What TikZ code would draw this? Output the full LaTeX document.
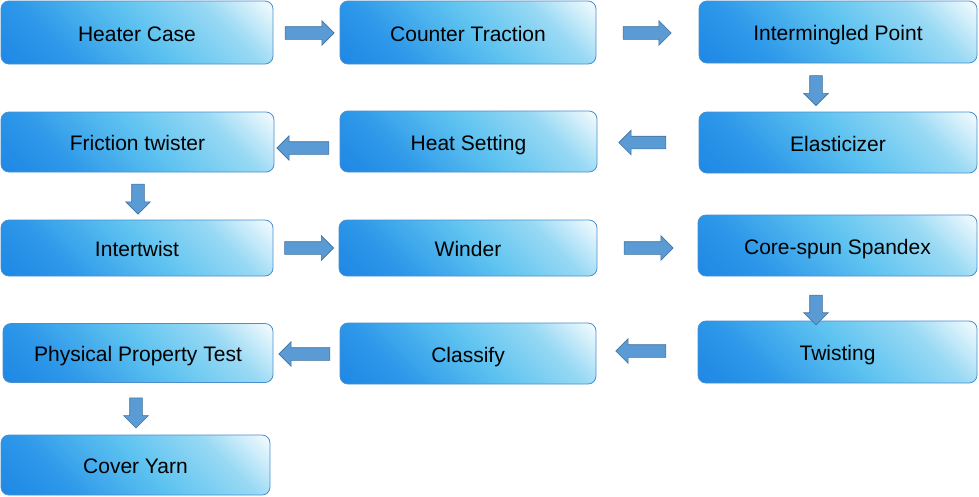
\documentclass[tikz,border=0pt]{standalone}
\usepackage{fontspec}
\setmainfont{Liberation Sans}
\usetikzlibrary{shapes.arrows,calc}
\definecolor{bA}{HTML}{1E88E5}
\definecolor{bB}{HTML}{2D97E9}
\definecolor{bC}{HTML}{5EC3F0}
\definecolor{bD}{HTML}{98D9F4}
\definecolor{bE}{HTML}{F4FBFE}
\definecolor{boxline}{HTML}{4A8FCF}
\definecolor{arrfill}{HTML}{5B9BD5}
\definecolor{arrline}{HTML}{41719C}
\pgfdeclarehorizontalshading{boxshade}{100bp}{color(0bp)=(bA); color(15bp)=(bA); color(30bp)=(bB); color(52bp)=(bC); color(70bp)=(bD); color(85bp)=(bE); color(100bp)=(white)}
\tikzset{
  box/.style={draw=boxline, line width=0.8pt, rounded corners=8pt, shading=boxshade, shading angle=45,
    font=\fontsize{21}{25}\selectfont, text=black, inner sep=0pt, text height=21pt, text depth=4pt},
  blockarrow/.style={single arrow, draw=arrline, fill=arrfill, line width=0.6pt,
    inner xsep=0pt, inner ysep=6pt, single arrow head extend=6pt, single arrow tip angle=90,
    minimum height=#1, sloped, allow upside down, anchor=center},
}
\begin{document}
\begin{tikzpicture}[x=1pt,y=-1pt]
\useasboundingbox (0,0) rectangle (979,496);
% row 1
\node[box, minimum width=272pt, minimum height=63pt] (heater) at (137,32.5) {Heater Case};
\node[box, minimum width=256pt, minimum height=63pt] (counter) at (468,32.5) {Counter Traction};
\node[box, minimum width=278pt, minimum height=62pt] (inter) at (838,32) {Intermingled Point};
% row 2
\node[box, minimum width=273pt, minimum height=60pt] (fric) at (137.5,142) {Friction twister};
\node[box, minimum width=257pt, minimum height=61pt] (heat) at (468.5,141.5) {Heat Setting};
\node[box, minimum width=278pt, minimum height=61pt] (elast) at (838,142.5) {Elasticizer};
% row 3
\node[box, minimum width=272pt, minimum height=56pt] (intw) at (137,248) {Intertwist};
\node[box, minimum width=258pt, minimum height=56pt] (winder) at (468,248) {Winder};
\node[box, minimum width=279pt, minimum height=61pt] (core) at (837.5,245.5) {Core-spun Spandex};
% row 4
\node[box, minimum width=270pt, minimum height=59pt] (phys) at (138,353) {Physical Property Test};
\node[box, minimum width=256pt, minimum height=61pt] (class) at (468,353.5) {Classify};
\node[box, minimum width=279pt, minimum height=62pt] (twist) at (837.5,352) {Twisting};
% row 5
\node[box, minimum width=269pt, minimum height=60pt] (cover) at (135.5,465) {Cover Yarn};
% arrows
\path ([yshift=-0.5pt]heater.east) -- ([yshift=-0.5pt]heater.east -| counter.west) node[blockarrow=49pt, pos=0.5] (a1) {};
\path ([yshift=-0.5pt]counter.east) -- ([yshift=-0.5pt]counter.east -| inter.west) node[blockarrow=48pt, pos=0.466] (a2) {};
\path ([xshift=-22pt]inter.south) -- ([xshift=-22pt]inter.south |- elast.north) node[blockarrow=30pt, pos=0.5] (a3) {};
\path (elast.west) -- (elast.west -| heat.east) node[blockarrow=47pt, pos=0.525] (a4) {};
\path ([yshift=-6.5pt]heat.west) -- ([yshift=-6.5pt]heat.west -| fric.east) node[blockarrow=52pt, pos=0.515] (a5) {};
\path ([xshift=0.5pt]fric.south) -- ([xshift=0.5pt]fric.south |- intw.north) node[blockarrow=30pt, pos=0.5] (a6) {};
\path (intw.east) -- (intw.east -| winder.west) node[blockarrow=49pt, pos=0.5] (a7) {};
\path (winder.east) -- (winder.east -| core.west) node[blockarrow=49pt, pos=0.48] (a8) {};
\path ([xshift=-21.5pt]core.south) -- ([xshift=-21.5pt]core.south |- twist.north) node[blockarrow=30pt, pos=0.69] (a9) {};
\path ([yshift=1pt]twist.west) -- ([yshift=1pt]twist.west -| class.east) node[blockarrow=50pt, pos=0.53] (a10) {};
\path ([yshift=-0.5pt]class.west) -- ([yshift=-0.5pt]class.west -| phys.east) node[blockarrow=51pt, pos=0.485] (a11) {};
\path ([xshift=-2pt]phys.south) -- ([xshift=-2pt]phys.south |- cover.north) node[blockarrow=30pt, pos=0.52] (a12) {};
\end{tikzpicture}
\end{document}
